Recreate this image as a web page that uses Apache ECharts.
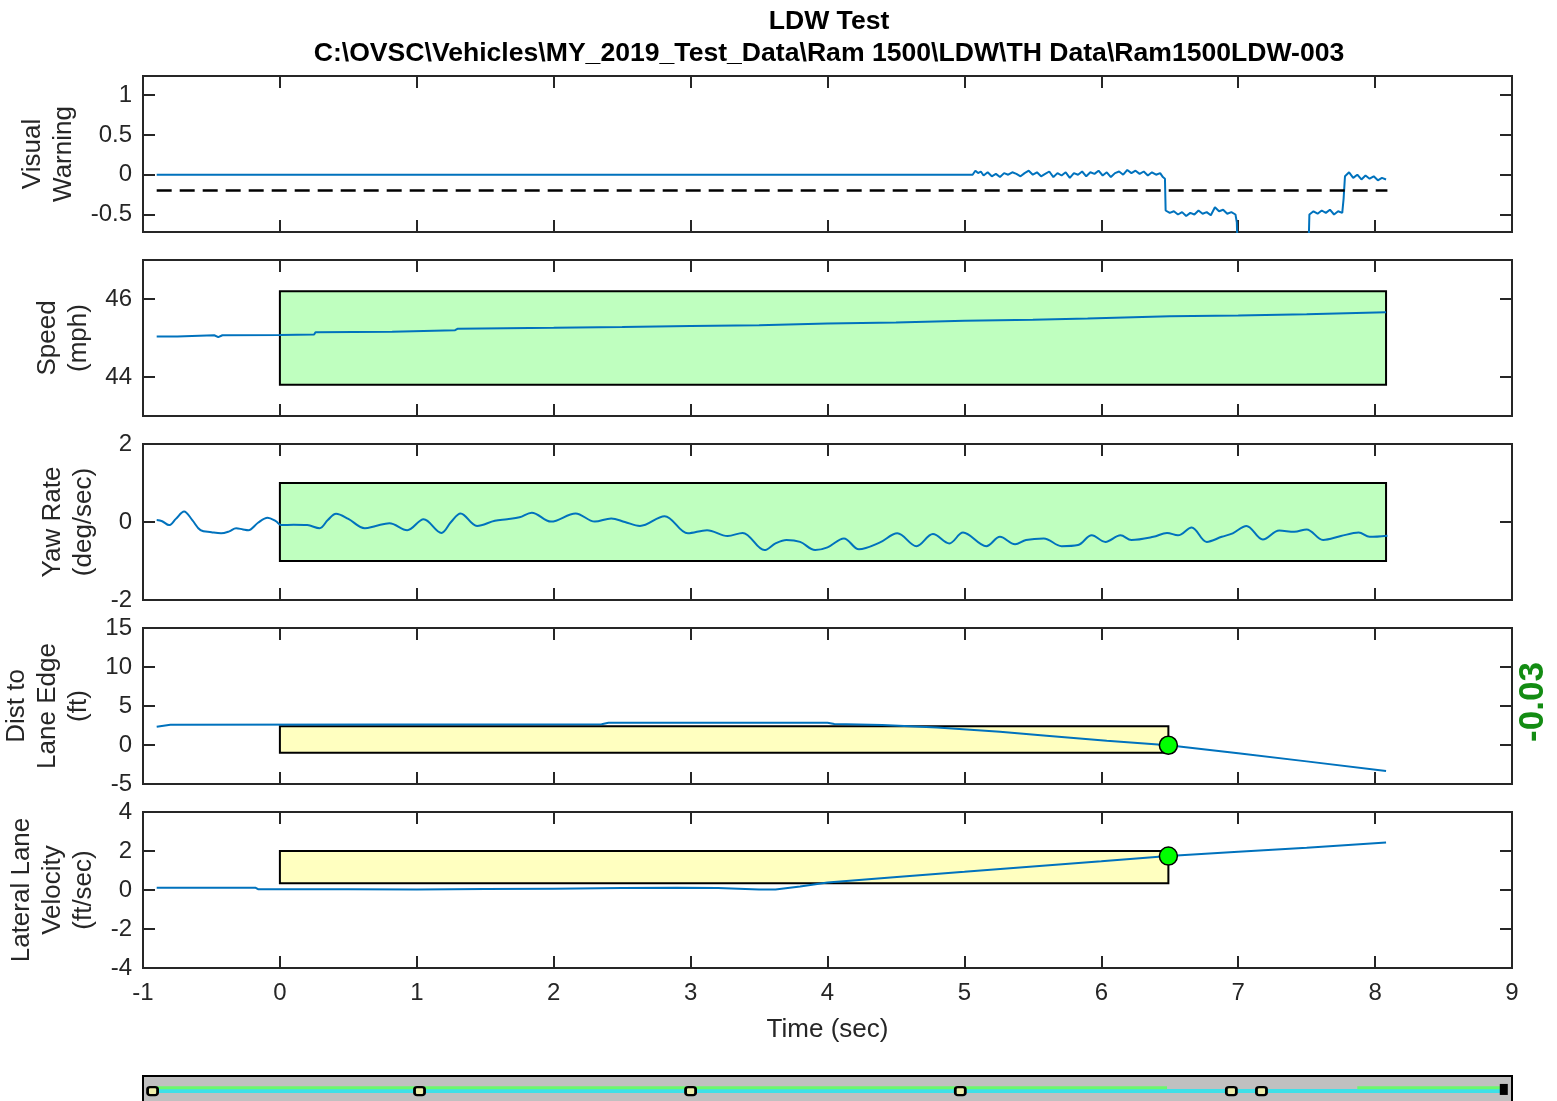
<!DOCTYPE html>
<html>
<head>
<meta charset="utf-8">
<title>LDW Test</title>
<script src="https://cdn.jsdelivr.net/npm/echarts@6/dist/echarts.min.js"></script>
<style>
  html, body { margin: 0; padding: 0; background: #fff; }
  #chart { width: 1557px; height: 1101px; }
</style>
</head>
<body>
<div id="chart"></div>
<script>
// ---- data ----
const titleLine1 = 'LDW Test';
const titleLine2 = 'C:\\OVSC\\Vehicles\\MY_2019_Test_Data\\Ram 1500\\LDW\\TH Data\\Ram1500LDW-003';

const timeTicks = [-1, 0, 1, 2, 3, 4, 5, 6, 7, 8, 9];
const warningTicks = [-0.5, 0, 0.5, 1];
const speedTicks = [44, 46];
const yawTicks = [-2, 0, 2];
const distTicks = [-5, 0, 5, 10, 15];
const latTicks = [-4, -2, 0, 2, 4];

const warningThreshold = -0.2;
const traceStart = -0.9;
const traceEnd = 8.09;

// visual warning signal [time, value]
const warningPts = [
  [-0.9, 0], [5.06, 0],
  [5.08, 0.05], [5.10, 0.02], [5.12, 0.04], [5.14, -0.01], [5.17, 0.03], [5.20, -0.02],
  [5.23, 0.01], [5.26, -0.03], [5.29, 0.02], [5.32, 0.00], [5.35, 0.03], [5.38, 0.01],
  [5.41, -0.02], [5.44, 0.02], [5.47, 0.05], [5.50, 0.00], [5.53, 0.03], [5.56, -0.02],
  [5.59, 0.01], [5.62, 0.04], [5.65, -0.03], [5.68, 0.02], [5.71, -0.01], [5.74, 0.03],
  [5.77, -0.04], [5.80, 0.02], [5.83, 0.00], [5.86, 0.04], [5.89, -0.02], [5.92, 0.03],
  [5.95, 0.01], [5.98, 0.05], [6.01, -0.01], [6.04, 0.03], [6.07, -0.03], [6.10, 0.02],
  [6.13, 0.04], [6.16, 0.00], [6.19, 0.06], [6.22, 0.02], [6.25, 0.05], [6.28, 0.01],
  [6.31, 0.04], [6.34, -0.01], [6.37, 0.03], [6.40, 0.00], [6.43, 0.02], [6.45, -0.03],
  [6.465, -0.05],
  [6.47, -0.45], [6.50, -0.48], [6.53, -0.46], [6.56, -0.50], [6.59, -0.47], [6.62, -0.52],
  [6.65, -0.48], [6.68, -0.50], [6.71, -0.45], [6.74, -0.49], [6.77, -0.47], [6.80, -0.51],
  [6.83, -0.41], [6.86, -0.46], [6.89, -0.44], [6.92, -0.49], [6.95, -0.47], [6.98, -0.50],
  [6.99, -0.60], [7.00, -1.20], [7.51, -1.20],
  [7.52, -0.50], [7.55, -0.46], [7.58, -0.49], [7.61, -0.45], [7.64, -0.48], [7.67, -0.44],
  [7.70, -0.50], [7.73, -0.46], [7.76, -0.48], [7.77, -0.30],
  [7.78, -0.02], [7.81, 0.03], [7.84, -0.04], [7.87, 0.00], [7.90, -0.06], [7.93, -0.01],
  [7.96, -0.05], [7.99, -0.02], [8.02, -0.07], [8.05, -0.04], [8.08, -0.06]
];

// vehicle speed (mph)
const speedPts = [
  [-0.9, 45.04], [-0.75, 45.04], [-0.74, 45.07], [-0.48, 45.07], [-0.45, 45.02], [-0.42, 45.07],
  [0.0, 45.08], [0.25, 45.09], [0.26, 45.15], [0.82, 45.16], [0.83, 45.19], [1.28, 45.20],
  [1.30, 45.24], [2.0, 45.26], [2.5, 45.28], [3.0, 45.31], [3.5, 45.33], [4.0, 45.37],
  [4.5, 45.40], [5.0, 45.44], [5.5, 45.47], [5.90, 45.50], [5.91, 45.54], [6.5, 45.56],
  [7.0, 45.58], [7.5, 45.61], [8.08, 45.66]
];

// yaw rate (deg/sec)
const yawPts = [
  [-0.90, 0.05], [-0.86, 0.02], [-0.81, -0.08], [-0.76, 0.08], [-0.70, 0.27], [-0.64, 0.05],
  [-0.58, -0.21], [-0.50, -0.26], [-0.43, -0.29], [-0.37, -0.24], [-0.32, -0.16], [-0.27, -0.19],
  [-0.23, -0.21], [-0.16, -0.02], [-0.09, 0.11], [-0.03, 0.02], [0.01, -0.08], [0.10, -0.07],
  [0.20, -0.08], [0.29, -0.16], [0.35, 0.05], [0.41, 0.21], [0.50, 0.08], [0.62, -0.16],
  [0.70, -0.10], [0.80, -0.03], [0.93, -0.21], [1.05, 0.07], [1.18, -0.28], [1.25, 0.00],
  [1.32, 0.22], [1.44, -0.10], [1.57, 0.03], [1.66, 0.07], [1.75, 0.12], [1.84, 0.24],
  [1.98, 0.01], [2.16, 0.22], [2.30, 0.01], [2.42, 0.09], [2.52, 0.00], [2.63, -0.10],
  [2.81, 0.15], [2.98, -0.29], [3.12, -0.21], [3.27, -0.36], [3.38, -0.28], [3.54, -0.72],
  [3.62, -0.55], [3.70, -0.46], [3.80, -0.51], [3.91, -0.72], [4.00, -0.65], [4.12, -0.42],
  [4.23, -0.70], [4.38, -0.53], [4.51, -0.29], [4.65, -0.62], [4.77, -0.31], [4.89, -0.55],
  [4.99, -0.27], [5.16, -0.62], [5.26, -0.38], [5.37, -0.57], [5.45, -0.46], [5.58, -0.42],
  [5.71, -0.62], [5.83, -0.59], [5.93, -0.34], [6.03, -0.51], [6.14, -0.34], [6.22, -0.46],
  [6.38, -0.38], [6.48, -0.28], [6.56, -0.34], [6.66, -0.14], [6.77, -0.51], [6.88, -0.38],
  [6.96, -0.29], [7.06, -0.10], [7.18, -0.45], [7.30, -0.22], [7.41, -0.25], [7.50, -0.19],
  [7.62, -0.46], [7.75, -0.36], [7.88, -0.27], [7.96, -0.38], [8.09, -0.35]
];

// distance to lane edge (ft)
const distPts = [
  [-0.9, 2.35], [-0.8, 2.6], [2.35, 2.65], [2.4, 2.85], [4.0, 2.85], [4.05, 2.7],
  [4.4, 2.55], [4.8, 2.25], [5.26, 1.7], [5.6, 1.2], [6.04, 0.55], [6.49, -0.03],
  [7.0, -1.05], [7.5, -2.1], [8.08, -3.33]
];

// lateral lane velocity (ft/sec)
const latPts = [
  [-0.9, 0.12], [-0.18, 0.12], [-0.16, 0.04], [0.5, 0.04], [1.0, 0.03], [1.5, 0.05],
  [2.0, 0.07], [2.5, 0.10], [2.9, 0.12], [3.2, 0.10], [3.5, 0.02], [3.62, 0.03],
  [3.8, 0.18], [4.0, 0.38], [4.53, 0.68], [5.0, 0.93], [5.5, 1.20], [6.0, 1.47],
  [6.49, 1.74], [7.0, 1.96], [7.5, 2.17], [8.08, 2.43]
];

// warning onset and values at that instant
const warningTime = 6.49;
const distAtWarning = -0.03;
const latAtWarning = 1.74;

// tolerance boxes [tStart, tEnd, low, high]
const speedBox = [0, 8.08, 43.8, 46.2];
const yawBox = [0, 8.08, -1, 1];
const distBox = [0, 6.49, -1, 2.4];
const latBox = [0, 6.49, 0.35, 2.0];

// event strip along the time base
const stripMarkers = [-0.93, 1.02, 3.0, 4.97, 6.95, 7.17];
const stripEnd = 8.94;
const stripGreenSegments = [[-0.95, 6.48], [7.87, 8.93]];
const stripCyanSegment = [-0.95, 8.93];

// ---- layout & styling ----
const FONT = '"Liberation Sans", Arial, Helvetica, sans-serif';
const INK = '#262626';
const LINE_BLUE = '#0072BD';
const PLOT_LEFT = 143, PLOT_RIGHT = 1557 - 1512;

const panels = [
  { top: 76, height: 156, min: -0.72, max: 1.24, ticks: warningTicks, name: 'Visual\nWarning', gap: 54 },
  { top: 260, height: 156, min: 43, max: 47, ticks: speedTicks, name: 'Speed\n(mph)', gap: 39 },
  { top: 444, height: 156, min: -2, max: 2, ticks: yawTicks, name: 'Yaw Rate\n(deg/sec)', gap: 35 },
  { top: 628, height: 156, min: -5, max: 15, ticks: distTicks, name: 'Dist to\nLane Edge\n(ft)', gap: 42 },
  { top: 812, height: 156, min: -4, max: 4, ticks: latTicks, name: 'Lateral Lane\nVelocity\n(ft/sec)', gap: 34 }
];

const tickStyle = { show: true, inside: true, length: 12, lineStyle: { color: INK, width: 2 } };
const labelFont = { color: INK, fontSize: 24, fontFamily: FONT };
const noLine = { show: false, onZero: false };

const grids = [], xAxes = [], yAxes = [];
panels.forEach((p, i) => {
  const last = i === panels.length - 1;
  grids.push({
    left: PLOT_LEFT, right: PLOT_RIGHT, top: p.top, height: p.height,
    outerBoundsMode: 'none', containLabel: false,
    show: true, borderColor: INK, borderWidth: 2, backgroundColor: '#fff'
  });
  xAxes.push({
    type: 'value', gridIndex: i, position: 'bottom', min: -1, max: 9, interval: 1,
    axisLine: noLine, splitLine: { show: false },
    axisTick: Object.assign({ customValues: timeTicks }, tickStyle),
    axisLabel: Object.assign({ show: last, margin: 13, customValues: timeTicks }, labelFont),
    name: last ? 'Time (sec)' : '', nameLocation: 'middle', nameGap: 49,
    nameTextStyle: { color: INK, fontSize: 26, fontFamily: FONT }
  });
  xAxes.push({
    type: 'value', gridIndex: i, position: 'top', min: -1, max: 9, interval: 1,
    axisLine: noLine, splitLine: { show: false },
    axisTick: Object.assign({ customValues: timeTicks }, tickStyle),
    axisLabel: { show: false }
  });
  yAxes.push({
    type: 'value', gridIndex: i, position: 'left', min: p.min, max: p.max,
    axisLine: noLine, splitLine: { show: false },
    axisTick: Object.assign({ customValues: p.ticks }, tickStyle),
    axisLabel: Object.assign({ margin: 11, customValues: p.ticks }, labelFont),
    name: p.name, nameLocation: 'middle', nameGap: p.gap,
    nameTextStyle: { color: INK, fontSize: 26, lineHeight: 31, fontFamily: FONT }
  });
  yAxes.push({
    type: 'value', gridIndex: i, position: 'right', min: p.min, max: p.max,
    axisLine: noLine, splitLine: { show: false },
    axisTick: Object.assign({ customValues: p.ticks }, tickStyle),
    axisLabel: { show: false }
  });
});

// event strip
grids.push({
  left: PLOT_LEFT, right: PLOT_RIGHT, top: 1076, height: 32,
  outerBoundsMode: 'none', containLabel: false,
  show: true, borderColor: '#000', borderWidth: 2, backgroundColor: '#c0c0c0'
});
xAxes.push({ type: 'value', gridIndex: 5, min: -1, max: 9, show: false });
yAxes.push({ type: 'value', gridIndex: 5, min: 0, max: 1, show: false });

function boxArea(box, fill) {
  return {
    silent: true,
    itemStyle: { color: fill, borderColor: '#000', borderWidth: 2 },
    data: [[{ xAxis: box[0], yAxis: box[2] }, { xAxis: box[1], yAxis: box[3] }]]
  };
}

function trace(idx, pts, extra) {
  return Object.assign({
    type: 'line', xAxisIndex: idx * 2, yAxisIndex: idx * 2, data: pts,
    showSymbol: false, symbol: 'none', clip: true, z: 3,
    lineStyle: { color: LINE_BLUE, width: 2 }
  }, extra || {});
}

const GREEN_BOX = '#bfffbf';
const YELLOW_BOX = '#ffffc0';

const series = [
  trace(0, warningPts),
  {
    type: 'line', xAxisIndex: 0, yAxisIndex: 0, symbol: 'none', z: 4,
    data: [[traceStart, warningThreshold], [traceEnd, warningThreshold]],
    lineStyle: { color: '#000', width: 2.5, type: [15, 8] }
  },
  trace(1, speedPts, { markArea: boxArea(speedBox, GREEN_BOX) }),
  trace(2, yawPts, { smooth: 0.35, markArea: boxArea(yawBox, GREEN_BOX) }),
  trace(3, distPts, { markArea: boxArea(distBox, YELLOW_BOX) }),
  {
    type: 'scatter', xAxisIndex: 6, yAxisIndex: 6, z: 6, symbolSize: 18,
    data: [[warningTime, distAtWarning]],
    itemStyle: { color: '#00ff00', borderColor: '#000', borderWidth: 1.5, opacity: 1 }
  },
  trace(4, latPts, { markArea: boxArea(latBox, YELLOW_BOX) }),
  {
    type: 'scatter', xAxisIndex: 8, yAxisIndex: 8, z: 6, symbolSize: 18,
    data: [[warningTime, latAtWarning]],
    itemStyle: { color: '#00ff00', borderColor: '#000', borderWidth: 1.5, opacity: 1 }
  },
  {
    type: 'line', xAxisIndex: 10, yAxisIndex: 10, symbol: 'none', z: 2,
    data: [[stripCyanSegment[0], 0.53], [stripCyanSegment[1], 0.53]],
    lineStyle: { color: '#3ee0e8', width: 4 }
  }
];
stripGreenSegments.forEach(seg => {
  series.push({
    type: 'line', xAxisIndex: 10, yAxisIndex: 10, symbol: 'none', z: 3,
    data: [[seg[0], 0.63], [seg[1], 0.63]],
    lineStyle: { color: '#6cf76c', width: 3 }
  });
});
series.push({
  type: 'scatter', xAxisIndex: 10, yAxisIndex: 10, z: 5,
  symbol: 'roundRect', symbolSize: [10, 8],
  data: stripMarkers.map(t => [t, 0.53]),
  itemStyle: { color: '#eeeeaa', borderColor: '#000', borderWidth: 2.5, opacity: 1 }
});
series.push({
  type: 'scatter', xAxisIndex: 10, yAxisIndex: 10, z: 5,
  symbol: 'rect', symbolSize: [8, 11],
  data: [[stripEnd, 0.58]],
  itemStyle: { color: '#000', opacity: 1 }
});

const chart = echarts.init(document.getElementById('chart'), null, { renderer: 'canvas' });
chart.setOption({
  animation: false,
  backgroundColor: '#fff',
  grid: grids,
  xAxis: xAxes,
  yAxis: yAxes,
  series: series,
  graphic: [
    {
      type: 'text', x: 829, y: 22, z: 10,
      style: { text: titleLine1, align: 'center', verticalAlign: 'middle',
        fill: '#000', font: 'bold 26.6px ' + FONT }
    },
    {
      type: 'text', x: 829, y: 54, z: 10,
      style: { text: titleLine2, align: 'center', verticalAlign: 'middle',
        fill: '#000', font: 'bold 26.6px ' + FONT }
    },
    {
      type: 'text', x: 1533, y: 702, rotation: Math.PI / 2, z: 10,
      style: { text: distAtWarning.toFixed(2), align: 'center', verticalAlign: 'middle',
        fill: '#138c13', font: 'bold 35px ' + FONT }
    }
  ]
});
</script>
</body>
</html>
